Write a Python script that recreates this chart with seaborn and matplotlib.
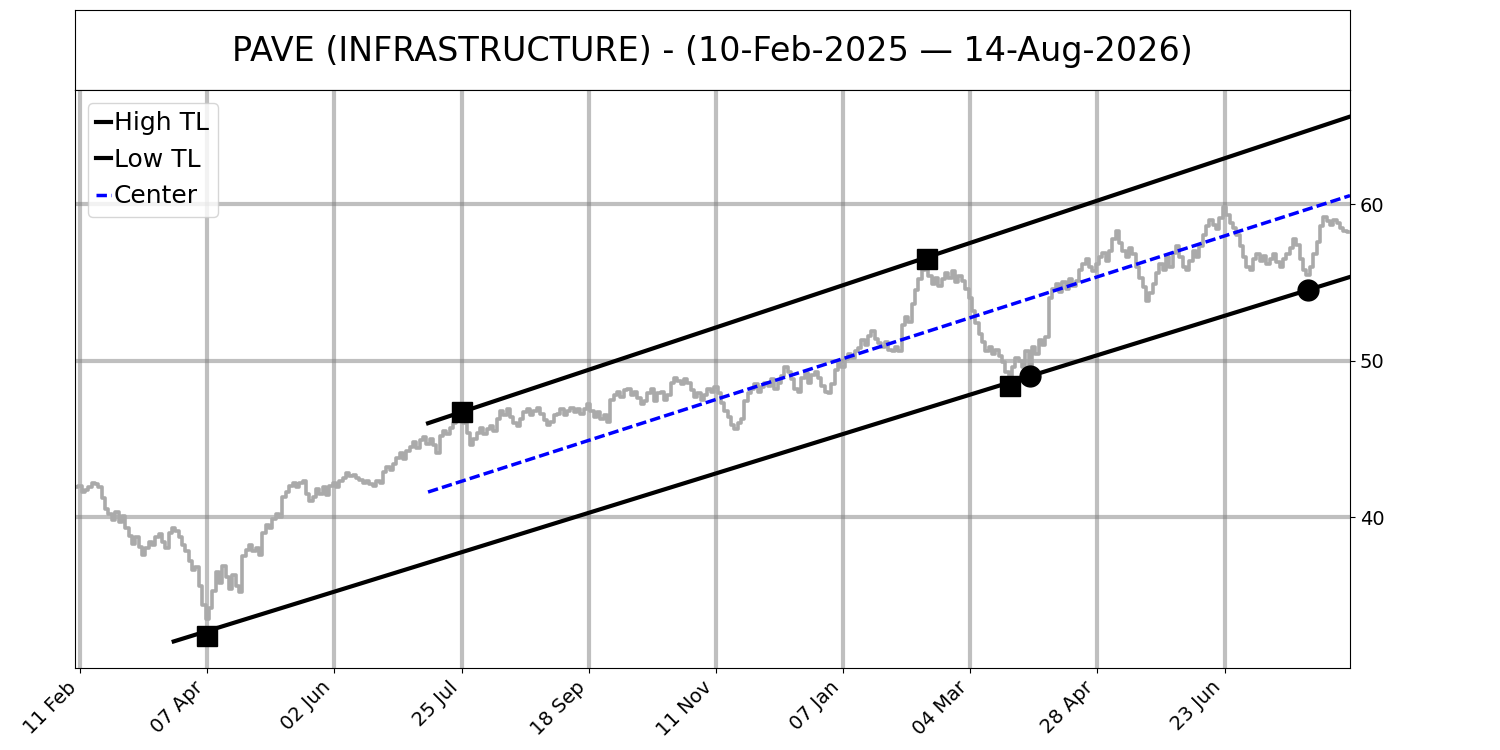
import numpy as np
import pandas as pd
import matplotlib
matplotlib.use("Agg")
from matplotlib import pyplot as plt
from matplotlib.ticker import MultipleLocator
import seaborn as sns

# daily closes, 10-Feb-2025 .. 14-Aug-2026 (one value per trading day)
closes = [
    41.9, 42.0, 41.6, 41.7, 41.9, 42.2, 42.1, 41.9, 41.2, 40.5,
    40.2, 39.8, 40.3, 39.7, 40.1, 39.3, 38.8, 38.3, 38.7, 38.1,
    37.6, 38.0, 38.4, 38.2, 38.7, 38.9, 38.4, 38.0, 39.0, 39.3,
    39.1, 38.7, 38.2, 37.8, 37.2, 36.6, 36.8, 35.6, 34.4, 33.5,
    34.2, 35.3, 36.5, 35.8, 36.9, 36.2, 35.4, 36.3, 35.6, 35.2,
    37.5, 37.9, 38.2, 37.8, 38.0, 37.6, 39.0, 39.5, 39.3, 39.9,
    40.2, 40.0, 41.3, 41.6, 42.0, 42.2, 41.9, 42.2, 42.3, 41.5,
    41.0, 41.3, 41.8, 41.5, 41.9, 41.4, 42.0, 42.2, 41.9, 42.3,
    42.5, 42.8, 42.6, 42.7, 42.5, 42.4, 42.2, 42.3, 42.1, 42.0,
    42.3, 42.2, 42.9, 43.2, 43.0, 43.4, 43.8, 44.1, 43.7, 44.2,
    44.5, 44.8, 44.4, 44.9, 45.1, 44.7, 45.0, 44.6, 44.1, 45.2,
    45.5, 45.3, 45.7, 46.0, 46.3, 46.4, 46.0, 45.4, 44.6, 45.0,
    45.4, 45.7, 45.3, 45.6, 45.8, 45.5, 46.3, 46.8, 46.5, 46.9,
    46.4, 46.0, 45.8, 46.3, 46.7, 46.9, 46.5, 46.8, 47.0, 46.6,
    46.2, 45.9, 46.1, 46.5, 46.6, 46.9, 46.5, 46.8, 47.0, 46.7,
    46.9, 46.6, 46.9, 47.2, 46.8, 46.4, 46.7, 46.3, 46.5, 46.1,
    47.5, 47.8, 48.0, 47.7, 48.1, 48.2, 47.8, 48.0, 47.6, 47.2,
    47.4, 47.9, 48.2, 47.4, 47.9, 48.0, 47.5, 47.8, 48.6, 48.9,
    48.7, 48.5, 48.8, 48.6, 48.1, 47.7, 47.9, 47.5, 47.8, 48.2,
    48.0, 48.3, 47.9, 47.3, 46.8, 46.4, 45.9, 45.6, 46.0, 46.3,
    47.4, 47.9, 48.2, 48.5, 48.0, 48.3, 48.6, 48.4, 48.8, 48.2,
    48.6, 49.0, 49.6, 49.3, 48.8, 48.2, 48.0, 48.9, 49.2, 48.6,
    49.1, 49.3, 48.9, 48.4, 48.0, 47.9, 48.5, 49.4, 49.9, 49.6,
    50.1, 50.4, 50.2, 50.6, 50.8, 51.3, 51.0, 51.6, 51.9, 51.4,
    51.1, 50.9, 51.2, 50.7, 50.6, 50.9, 50.6, 52.3, 52.8, 52.5,
    53.6, 54.5, 55.2, 55.8, 56.0, 55.4, 54.9, 55.3, 54.8, 55.2,
    55.6, 55.3, 55.7, 55.0, 55.4, 55.1, 54.6, 54.0, 53.2, 52.4,
    51.7, 51.2, 50.6, 50.9, 50.4, 50.7, 50.3, 49.9, 49.3, 49.0,
    49.6, 50.2, 50.0, 49.6, 50.6, 49.6, 50.9, 50.4, 51.3, 51.0,
    51.5, 54.0, 54.6, 54.9, 54.4, 55.0, 54.6, 55.2, 54.8, 55.1,
    55.8, 56.2, 56.5, 56.0, 55.7, 56.2, 56.6, 56.9, 56.4, 57.0,
    57.8, 58.3, 57.5, 57.0, 56.6, 57.2, 56.8, 56.0, 55.3, 54.7,
    53.8, 54.3, 54.9, 55.6, 56.2, 55.8, 56.6, 56.0, 56.9, 57.3,
    56.6, 56.0, 55.8, 56.4, 57.0, 56.6, 57.3, 58.0, 58.6, 59.0,
    58.7, 58.4, 59.1, 59.8, 59.3, 58.8, 58.5, 58.0, 57.3, 56.6,
    56.0, 55.8, 56.5, 56.8, 56.4, 56.7, 56.2, 56.5, 56.8, 56.3,
    56.0, 56.5, 56.8, 57.2, 57.8, 57.4, 56.5, 55.8, 55.5, 56.0,
    56.8, 57.6, 58.6, 59.2, 58.9, 58.7, 59.0, 58.8, 58.5, 58.3,
    58.2,
]

tick_labels = ["11 Feb", "07 Apr", "02 Jun", "25 Jul", "18 Sep",
               "11 Nov", "07 Jan", "04 Mar", "28 Apr", "23 Jun"]
tick_step = 38

# trend lines: (bar index, price) at both ends
high_tl = {"x": [105, 380.5], "y": [46.0, 65.6]}
low_tl = {"x": [29, 380.5], "y": [32.05, 55.35]}
center_tl = {"x": [105, 380.5], "y": [41.6, 60.55]}

# pivots
high_pivots = {"x": [115, 254], "y": [46.7, 56.5]}
low_pivots = {"x": [39, 279], "y": [32.4, 48.4]}
touch_pts = {"x": [285, 368], "y": [49.0, 54.5]}

title = "PAVE (INFRASTRUCTURE) - (10-Feb-2025 \u2014 14-Aug-2026)"

df = pd.DataFrame({"bar": np.arange(len(closes)), "close": closes})

fig = plt.figure(figsize=(15, 7.5), dpi=100)
ax_t = fig.add_axes([0.05, 0.88, 0.85, 0.1067])
ax = fig.add_axes([0.05, 0.1093, 0.85, 0.7707])

# title box
ax_t.set_xticks([])
ax_t.set_yticks([])
ax_t.text(0.5, 0.48, title, ha="center", va="center", fontsize=24,
          transform=ax_t.transAxes)

# price
sns.lineplot(data=df, x="bar", y="close", ax=ax, color="#aaaaaa",
             lw=2.6, drawstyle="steps-mid", legend=False)

# trend lines
sns.lineplot(x=high_tl["x"], y=high_tl["y"], ax=ax, color="black", lw=3, label="High TL")
sns.lineplot(x=low_tl["x"], y=low_tl["y"], ax=ax, color="black", lw=3, label="Low TL")
sns.lineplot(x=center_tl["x"], y=center_tl["y"], ax=ax, color="blue", lw=2.5,
             ls=(0, (3, 1.2)), label="Center")

ax.plot(high_pivots["x"], high_pivots["y"], "s", color="black", ms=15, ls="none")
ax.plot(low_pivots["x"], low_pivots["y"], "s", color="black", ms=15, ls="none")
ax.plot(touch_pts["x"], touch_pts["y"], "o", color="black", ms=15, ls="none")

n = len(closes)
ticks = list(range(1, n, tick_step))[:len(tick_labels)]
ax.set_xticks(ticks)
ax.set_xticklabels(tick_labels, rotation=45, ha="right", fontsize=14)
ax.set_xlim(-0.5, n - 0.5)
ax.set_ylim(30.35, 67.3)
ax.yaxis.tick_right()
ax.yaxis.set_major_locator(MultipleLocator(10))
ax.tick_params(axis="y", labelsize=14)
ax.set_xlabel("")
ax.set_ylabel("")
ax.grid(True, color="gray", alpha=0.5, lw=3)
ax.set_axisbelow(True)

ax.legend(loc="upper left", fontsize=18, handlelength=0.6, handletextpad=0.1,
          borderpad=0.35, labelspacing=0.5, borderaxespad=0.5)

fig.savefig("out.png", dpi=100)
